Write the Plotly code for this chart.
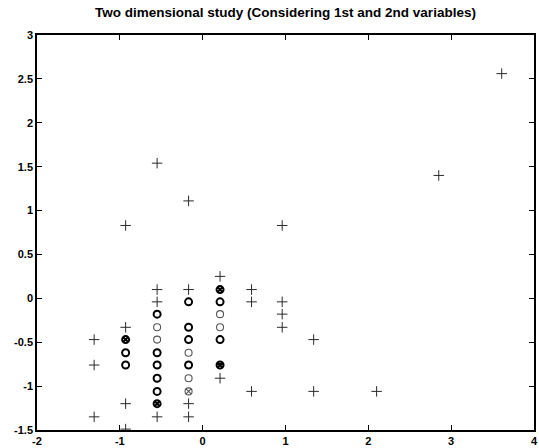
import plotly.graph_objects as go

title = "Two dimensional study (Considering 1st and 2nd variables)"

plus_x = [-1.31, -1.31, -1.31,
          -0.93, -0.93, -0.93, -0.93,
          -0.55, -0.55, -0.55, -0.55,
          -0.17, -0.17, -0.17, -0.17,
          0.21, 0.21,
          0.59, 0.59, 0.59,
          0.96, 0.96, 0.96, 0.96,
          1.34, 1.34,
          2.10,
          2.85,
          3.61]
plus_y = [-0.47, -0.76, -1.35,
          0.83, -0.33, -1.20, -1.49,
          1.54, 0.10, -0.04, -1.35,
          1.11, 0.10, -1.20, -1.35,
          0.25, -0.91,
          0.10, -0.04, -1.06,
          0.83, -0.04, -0.18, -0.33,
          -0.47, -1.06,
          -1.06,
          1.40,
          2.56]

bold_o_x = [-0.93, -0.93,
            -0.55, -0.55, -0.55, -0.55, -0.55,
            -0.17, -0.17, -0.17, -0.17,
            0.21, 0.21]
bold_o_y = [-0.62, -0.76,
            -0.18, -0.62, -0.76, -0.91, -1.06,
            -0.04, -0.33, -0.47, -0.76,
            -0.04, -0.47]

thin_o_x = [-0.55, -0.55, -0.17, -0.17, 0.21, 0.21]
thin_o_y = [-0.33, -0.47, -0.62, -0.91, -0.18, -0.33]

bold_ox_x = [-0.93, -0.55, 0.21, 0.21]
bold_ox_y = [-0.47, -1.20, 0.10, -0.76]

thin_ox_x = [-0.17]
thin_ox_y = [-1.06]

x_ticks = [-2, -1, 0, 1, 2, 3, 4]
y_ticks = [-1.5, -1, -0.5, 0, 0.5, 1, 1.5, 2, 2.5, 3]
y_tick_text = ["-1.5", "-1", "-0.5", "0", "0.5", "1", "1.5", "2", "2.5", "3"]

fig = go.Figure()
fig.add_trace(go.Scatter(x=plus_x, y=plus_y, mode="markers",
                         marker=dict(symbol="cross-thin", size=7.5, color="#2a2a2a",
                                     line=dict(color="#2a2a2a", width=1))))
fig.add_trace(go.Scatter(x=thin_o_x, y=thin_o_y, mode="markers",
                         marker=dict(symbol="circle-open", size=7, color="#555555",
                                     line=dict(color="#555555", width=1.1))))
fig.add_trace(go.Scatter(x=bold_o_x, y=bold_o_y, mode="markers",
                         marker=dict(symbol="circle-open", size=7, color="#000000",
                                     line=dict(color="#000000", width=2))))
fig.add_trace(go.Scatter(x=thin_ox_x, y=thin_ox_y, mode="markers",
                         marker=dict(symbol="circle-x-open", size=7, color="#555555",
                                     line=dict(color="#555555", width=1.1))))
fig.add_trace(go.Scatter(x=bold_ox_x, y=bold_ox_y, mode="markers",
                         marker=dict(symbol="circle-x-open", size=7, color="#000000",
                                     line=dict(color="#000000", width=2))))

axis_common = dict(showgrid=False, zeroline=False, showline=True,
                   linecolor="black", linewidth=1.5, mirror="ticks",
                   ticks="inside", ticklen=5, tickwidth=1, tickcolor="black",
                   ticklabeloverflow="allow",
                   tickfont=dict(family="Liberation Sans, Arial, sans-serif",
                                 size=11, color="black", weight="bold"))

fig.update_xaxes(range=[-2, 4], tickmode="array", tickvals=x_ticks,
                 ticktext=[str(v) for v in x_ticks], **axis_common)
fig.update_yaxes(range=[-1.5, 3], tickmode="array", tickvals=y_ticks,
                 ticktext=y_tick_text, **axis_common)

fig.update_layout(
    width=539, height=448,
    margin=dict(l=37, r=1, t=35, b=18),
    paper_bgcolor="white", plot_bgcolor="white",
    showlegend=False,
    title=dict(text="<b>" + title + "</b>", x=0.5, xanchor="center",
               xref="paper", y=1 - 12 / 448, yref="container", yanchor="middle",
               font=dict(family="Liberation Sans, Arial, sans-serif", size=13.5,
                         color="black")),
)

fig.write_html("out.html", config={"displayModeBar": False},
               post_script="document.body.style.margin='0';document.body.style.overflow='hidden';")
